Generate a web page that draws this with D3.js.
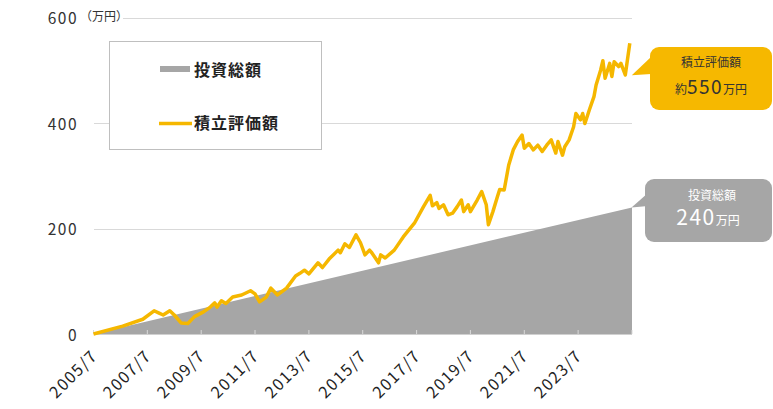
<!DOCTYPE html>
<html lang="ja">

<head>
  <meta charset="UTF-8">
  <title>積立評価額</title>
  <script src="https://d3js.org/d3.v7.min.js"></script>
  <style>
    body {
      margin: 0;
      background: #fff;
    }

    text {
      font-family: "Noto Sans CJK JP", "Noto Sans", sans-serif;
    }
  </style>
</head>

<body>
  <div id="chart"></div>

  <script>
    // Data (万円)
    var valueDates = [
      "2005-07", "2006-08", "2007-05", "2007-10", "2007-12", "2008-02", "2008-05", "2008-07", "2008-10",
      "2009-01", "2009-04", "2009-08", "2009-11", "2010-01", "2010-02", "2010-04", "2010-06", "2010-09",
      "2011-01", "2011-05", "2011-07", "2011-09", "2011-12", "2012-02", "2012-05", "2012-09", "2013-01",
      "2013-03", "2013-05", "2013-07", "2013-11", "2014-01", "2014-04", "2014-08", "2014-09", "2014-11",
      "2015-01", "2015-04", "2015-06", "2015-08", "2015-10", "2015-11", "2016-02", "2016-03", "2016-05",
      "2016-09", "2017-01", "2017-06", "2017-10", "2018-01", "2018-02", "2018-04", "2018-05", "2018-07",
      "2018-09", "2018-11", "2019-01", "2019-03", "2019-04", "2019-06", "2019-07", "2019-10", "2019-12",
      "2020-02", "2020-03", "2020-05", "2020-07", "2020-08", "2020-10", "2020-12", "2021-02", "2021-04",
      "2021-06", "2021-07", "2021-09", "2021-11", "2022-01", "2022-03", "2022-05", "2022-07", "2022-09",
      "2022-10", "2022-12", "2023-01", "2023-03", "2023-05", "2023-06", "2023-08", "2023-09", "2023-10",
      "2023-12", "2024-02", "2024-03", "2024-05", "2024-06", "2024-07", "2024-09", "2024-10", "2024-11",
      "2025-01", "2025-02", "2025-04", "2025-06"
    ];
    var valueAmounts = [
      0, 15, 28, 44, 40, 36, 44, 36, 21,
      20, 33, 42, 51, 59, 51, 63, 58, 70,
      74, 82, 76, 61, 70, 87, 74, 87, 110,
      115, 121, 114, 135, 126, 142, 159, 154, 171,
      164, 188, 173, 150, 159, 154, 135, 150, 144,
      159, 184, 210, 241, 263, 243, 249, 238, 245,
      226, 229, 241, 254, 232, 245, 232, 254, 270,
      245, 207, 232, 260, 274, 273, 320, 349, 365,
      377, 352, 361, 349, 358, 346, 358, 368, 343,
      365, 339, 355, 368, 393, 418, 406, 418, 399,
      425, 450, 472, 500, 518, 485, 513, 488, 516,
      507, 513, 491, 551
    ];
    var investDates = ["2005-07", "2025-07"];
    var investAmounts = [0, 240];

    var yTicks = [0, 200, 400, 600];
    var xTickDates = ["2005-07", "2007-07", "2009-07", "2011-07", "2013-07", "2015-07",
      "2017-07", "2019-07", "2021-07", "2023-07", "2025-07"];
    var xTickLabels = ["2005/7", "2007/7", "2009/7", "2011/7", "2013/7", "2015/7",
      "2017/7", "2019/7", "2021/7", "2023/7", ""];

    var parse = d3.timeParse("%Y-%m");

    var width = 773;
    var height = 409;

    var svg = d3.select("#chart")
      .append("svg")
      .attr("width", width)
      .attr("height", height);

    var x = d3.scaleTime()
      .domain([parse("2005-07"), parse("2025-07")])
      .range([93.5, 632]);

    var y = d3.scaleLinear()
      .domain([0, 600])
      .range([334, 17.5]);

    // Gridlines
    svg.append("g")
      .selectAll("line")
      .data(yTicks)
      .enter()
      .append("line")
      .attr("x1", 94)
      .attr("x2", 632)
      .attr("y1", function (d) { return Math.round(y(d)) + 0.5; })
      .attr("y2", function (d) { return Math.round(y(d)) + 0.5; })
      .style("stroke", "#d9d9d9")
      .style("stroke-width", 1);

    // Investment area
    var investData = investDates.map(function (d, i) {
      return { date: parse(d), value: investAmounts[i] };
    });

    svg.append("path")
      .datum(investData)
      .attr("d", d3.area()
        .x(function (d) { return x(d.date); })
        .y0(y(0))
        .y1(function (d) { return y(d.value); }))
      .style("fill", "#a6a6a6");

    // X ticks (small, pointing up)
    svg.append("g")
      .selectAll("line")
      .data(xTickDates)
      .enter()
      .append("line")
      .attr("x1", function (d) { return x(parse(d)); })
      .attr("x2", function (d) { return x(parse(d)); })
      .attr("y1", y(0))
      .attr("y2", y(0) - 4)
      .style("stroke", "#d9d9d9")
      .style("stroke-width", 1);

    svg.append("line")
      .attr("x1", 94)
      .attr("x2", 632)
      .attr("y1", y(0) + 0.5)
      .attr("y2", y(0) + 0.5)
      .style("stroke", "#d0d0d0");

    // Valuation line
    var valueData = valueDates.map(function (d, i) {
      return { date: parse(d), value: valueAmounts[i] };
    });

    svg.append("path")
      .datum(valueData)
      .attr("d", d3.line()
        .x(function (d) { return x(d.date); })
        .y(function (d) { return y(d.value); }))
      .style("fill", "none")
      .style("stroke", "#f5b700")
      .style("stroke-width", 3.5)
      .style("stroke-linejoin", "round");

    // Y labels
    svg.append("g")
      .selectAll("text")
      .data(yTicks)
      .enter()
      .append("text")
      .attr("x", 78)
      .attr("y", function (d) { return y(d); })
      .attr("dy", "0.42em")
      .attr("text-anchor", "end")
      .style("font-size", "15.5px")
      .style("letter-spacing", "1.5px")
      .style("fill", "#333")
      .text(function (d) { return d; });

    svg.append("rect")
      .attr("x", 80)
      .attr("y", 8)
      .attr("width", 43)
      .attr("height", 16)
      .style("fill", "#fff");

    svg.append("text")
      .attr("x", 80)
      .attr("y", 21)
      .style("font-size", "12px")
      .style("fill", "#333")
      .text("（万円）");

    // X labels
    svg.append("g")
      .selectAll("text")
      .data(xTickDates)
      .enter()
      .append("text")
      .attr("transform", function (d) {
        return "translate(" + (x(parse(d)) + 5) + ",357) rotate(-45)";
      })
      .attr("text-anchor", "end")
      .style("font-size", "16px")
      .style("letter-spacing", "1.5px")
      .style("fill", "#222")
      .text(function (d, i) { return xTickLabels[i]; });

    // Legend
    var legend = svg.append("g");

    legend.append("rect")
      .attr("x", 109.5)
      .attr("y", 41.5)
      .attr("width", 212)
      .attr("height", 108)
      .style("fill", "#fff")
      .style("stroke", "#bfbfbf");

    legend.append("rect")
      .attr("x", 160)
      .attr("y", 66)
      .attr("width", 30)
      .attr("height", 6)
      .style("fill", "#a6a6a6");

    legend.append("text")
      .attr("x", 194)
      .attr("y", 76)
      .style("font-size", "16px")
      .style("font-weight", "bold")
      .style("letter-spacing", "1px")
      .style("fill", "#222")
      .text("投資総額");

    legend.append("line")
      .attr("x1", 159)
      .attr("x2", 192)
      .attr("y1", 123.5)
      .attr("y2", 123.5)
      .style("stroke", "#f5b700")
      .style("stroke-width", 3.5);

    legend.append("text")
      .attr("x", 194)
      .attr("y", 129)
      .style("font-size", "16px")
      .style("font-weight", "bold")
      .style("letter-spacing", "1px")
      .style("fill", "#222")
      .text("積立評価額");

    // Callouts
    var last = valueData[valueData.length - 1];
    var lastInvest = investData[investData.length - 1];

    var gold = svg.append("g");
    gold.append("rect")
      .attr("x", 650)
      .attr("y", 47)
      .attr("width", 122)
      .attr("height", 63)
      .attr("rx", 9)
      .style("fill", "#f6b800");
    gold.append("path")
      .attr("d", "M651,57 L" + (x(last.date) + 2) + "," + (y(last.value) + 32) + " L651,74 Z")
      .style("fill", "#f6b800");
    gold.append("text")
      .attr("x", 711)
      .attr("y", 67)
      .attr("text-anchor", "middle")
      .style("font-size", "12px")
      .style("fill", "#333")
      .text("積立評価額");
    var gt = gold.append("text")
      .attr("x", 711)
      .attr("y", 94)
      .attr("text-anchor", "middle")
      .style("fill", "#333");
    gt.append("tspan").style("font-size", "12px").text("約");
    gt.append("tspan").style("font-size", "19px").style("letter-spacing", "1.5px").text("550");
    gt.append("tspan").style("font-size", "12px").text("万円");

    var grey = svg.append("g");
    grey.append("rect")
      .attr("x", 645)
      .attr("y", 179)
      .attr("width", 127)
      .attr("height", 63)
      .attr("rx", 9)
      .style("fill", "#a6a6a6");
    grey.append("path")
      .attr("d", "M648,193 L" + (x(lastInvest.date) - 0.5) + "," + y(lastInvest.value) + " L648,206 Z")
      .style("fill", "#a6a6a6");
    grey.append("text")
      .attr("x", 712)
      .attr("y", 200)
      .attr("text-anchor", "middle")
      .style("font-size", "12px")
      .style("fill", "#fff")
      .text("投資総額");
    var wt = grey.append("text")
      .attr("x", 708)
      .attr("y", 225)
      .attr("text-anchor", "middle")
      .style("fill", "#fff");
    wt.append("tspan").style("font-size", "21px").style("letter-spacing", "1.5px").text("240");
    wt.append("tspan").style("font-size", "12px").text("万円");
  </script>
</body>

</html>
